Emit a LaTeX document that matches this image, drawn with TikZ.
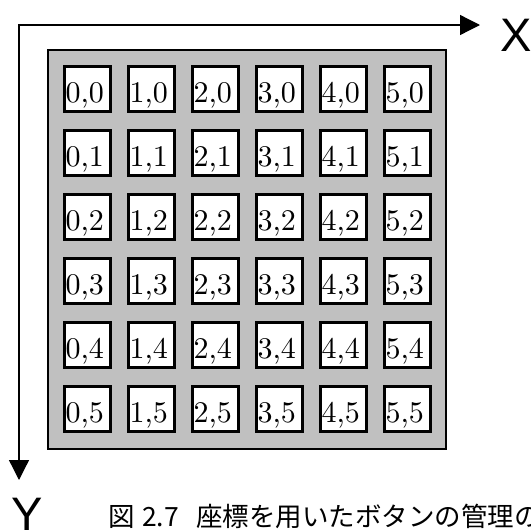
\documentclass[tikz,border=0pt]{standalone}
\usepackage{fontspec}
\newfontfamily\axisfont{Liberation Sans}
\newfontfamily\cjkfont{Noto Sans CJK JP}
\newfontfamily\cellfont[Extension=.otf]{lmroman10-regular}
\usetikzlibrary{arrows.meta}
\definecolor{boardgray}{HTML}{C0C0C0}
\tikzset{
  axisline/.style={line width=1.3pt, {Triangle[length=20pt,width=20pt]}-{Triangle[length=20pt,width=20pt]}},
  board/.style={draw=black, fill=boardgray, line width=2pt},
  cellbox/.style={draw=black, fill=white, line width=2.6pt, minimum width=46.4pt, minimum height=45.4pt, inner sep=0pt},
  celltext/.style={anchor=base west, inner sep=0pt, font=\cellfont\fontsize{30}{30}\selectfont},
  axislabel/.style={anchor=base, inner sep=0pt, font=\axisfont\fontsize{47}{47}\selectfont},
  caption/.style={anchor=base west, inner sep=0pt, font=\cjkfont\fontsize{26.5}{26.5}\selectfont}
}
\begin{document}
\begin{tikzpicture}[x=1pt, y=-1pt]
\useasboundingbox (0,0) rectangle (531,530);
\coordinate (o) at (19,25);
\coordinate (xe) at (480,25);
\coordinate (ye) at (19,480);
\draw[axisline] (xe) -- (o) -- (ye);
\node[board, minimum width=398pt, minimum height=399pt, inner sep=0pt] (bd) at (247,249.5) {};
\foreach \i in {0,...,5}{
  \foreach \j in {0,...,5}{
    \node[cellbox] (c\i\j) at ({87.5+64*\i},{89+64*\j}) {};
    \node[celltext] (t\i\j) at ({65.3+64*\i},{102.5+64*\j}) {\i,\j};
  }
}
\node[axislabel] (xl) at (516.5,52) {X};
\node[axislabel] (yl) at (27.5,530.5) {Y};
\node[caption] (cap) at (108.5,526) {図\hspace{7pt}2.7\hspace{17.5pt}座標を用いたボタンの管理の};
\end{tikzpicture}
\end{document}
